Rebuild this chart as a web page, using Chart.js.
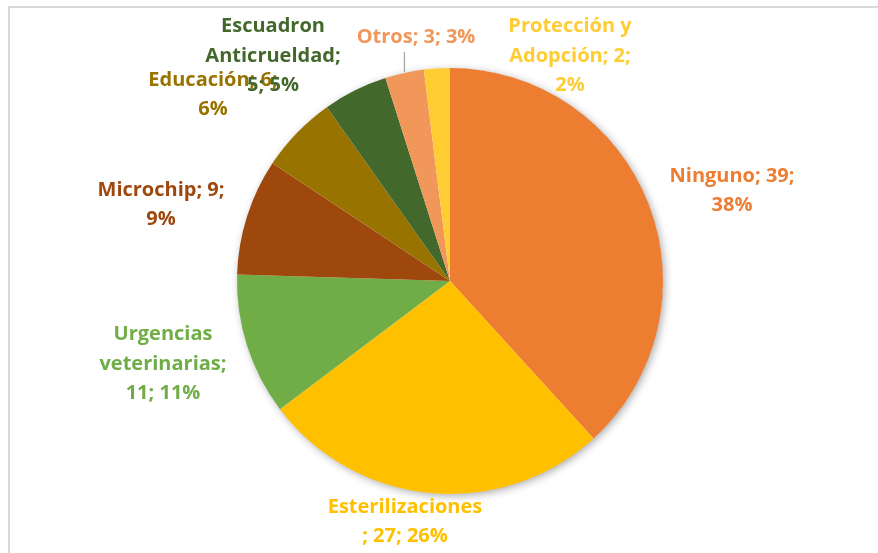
<!DOCTYPE html>
<html>
<head>
<meta charset="utf-8">
<script src="https://cdn.jsdelivr.net/npm/chart.js@4"></script>
<style>
  html, body { margin: 0; padding: 0; background: #fff; }
  #wrap { width: 878px; height: 553px; position: relative; }
</style>
</head>
<body>
<div id="wrap"><canvas id="pieChart"></canvas></div>
<script>
/* =========================
   DATA
========================= */
const categories = [
  "Ninguno",
  "Esterilizaciones",
  "Urgencias veterinarias",
  "Microchip",
  "Educación",
  "Escuadron Anticrueldad",
  "Otros",
  "Protección y Adopción"
];
const values = [39, 27, 11, 9, 6, 5, 3, 2];
const colors = ["#ED7D31", "#FFC000", "#70AD47", "#9E480E", "#997300", "#43682B", "#F1975A", "#FFCD33"];

// label placement, relative to pie center (px) + wrap width
const labelLayout = [
  { dx: 282,  dy: -90,  w: 150 },
  { dx: -45,  dy: 241,  w: 0 },   // 0 = break inside the long word
  { dx: -287, dy: 83,   w: 140 },
  { dx: -289, dy: -76,  w: 145 },
  { dx: -237, dy: -186, w: 145 },
  { dx: -177, dy: -225, w: 142 },
  { dx: -34,  dy: -244, w: 220, leader: true },
  { dx: 120,  dy: -225, w: 135 }
];

const FONT = "bold 20px 'Open Sans', Lato, sans-serif";
const LINE_H = 29.5;

/* =========================
   HELPERS
========================= */
function wrapText(ctx, text, maxW) {
  if (!maxW) {
    // width of the first word only -> trailing ';' goes to next line
    maxW = ctx.measureText(text.split(";")[0]).width + 1;
  }
  const words = text.split(" ");
  const lines = [];
  let cur = "";
  words.forEach(word => {
    const test = cur ? cur + " " + word : word;
    if (ctx.measureText(test).width <= maxW) { cur = test; return; }
    if (cur) lines.push(cur);
    // word too long on its own: break by characters
    if (ctx.measureText(word).width > maxW) {
      let piece = "";
      for (const ch of word) {
        if (ctx.measureText(piece + ch).width > maxW) { lines.push(piece); piece = ch; }
        else piece += ch;
      }
      cur = piece;
    } else {
      cur = word;
    }
  });
  if (cur) lines.push(cur);
  return lines;
}

/* =========================
   PLUGINS
========================= */
const frame = {
  id: "frame",
  beforeDraw(chart) {
    const ctx = chart.ctx;
    ctx.save();
    ctx.fillStyle = "#fff";
    ctx.fillRect(0, 0, chart.width, chart.height);
    ctx.strokeStyle = "#D9D9D9";
    ctx.lineWidth = 2;
    ctx.strokeRect(9, 7, chart.width + 20, chart.height + 20);
    ctx.restore();
  }
};

const pieShadow = {
  id: "pieShadow",
  beforeDatasetsDraw(chart) {
    const arc = chart.getDatasetMeta(0).data[0];
    if (!arc) return;
    const ctx = chart.ctx;
    ctx.save();
    ctx.shadowColor = "rgba(0,0,0,0.35)";
    ctx.shadowBlur = 9;
    ctx.shadowOffsetX = 2;
    ctx.shadowOffsetY = 2;
    ctx.fillStyle = "#fff";
    ctx.beginPath();
    ctx.arc(arc.x, arc.y, arc.outerRadius - 0.5, 0, Math.PI * 2);
    ctx.fill();
    ctx.restore();
  }
};

const pieLabels = {
  id: "pieLabels",
  afterDatasetsDraw(chart) {
    const ctx = chart.ctx;
    const meta = chart.getDatasetMeta(0);
    const total = values.reduce((a, b) => a + b, 0);
    ctx.save();
    ctx.font = FONT;
    ctx.textAlign = "center";
    ctx.textBaseline = "middle";
    meta.data.forEach((arc, i) => {
      const lay = labelLayout[i];
      const pct = Math.round(values[i] / total * 100);
      const text = `${categories[i]}; ${values[i]}; ${pct}%`;
      const lines = wrapText(ctx, text, lay.w);
      const cx = arc.x + lay.dx;
      const cy = arc.y + lay.dy;
      const top = cy - (lines.length - 1) * LINE_H / 2;

      if (lay.leader) {
        const mid = (arc.startAngle + arc.endAngle) / 2;
        const px = arc.x + Math.cos(mid) * arc.outerRadius;
        const py = arc.y + Math.sin(mid) * arc.outerRadius;
        ctx.strokeStyle = "#A6A6A6";
        ctx.lineWidth = 1.3;
        ctx.beginPath();
        ctx.moveTo(px, top + (lines.length - 1) * LINE_H + 15);
        ctx.lineTo(px, py - 1);
        ctx.stroke();
      }

      ctx.fillStyle = colors[i];
      lines.forEach((ln, k) => ctx.fillText(ln, cx, top + k * LINE_H));
    });
    ctx.restore();
  }
};

/* =========================
   CHART
========================= */
new Chart(document.getElementById("pieChart"), {
  type: "pie",
  data: {
    labels: categories,
    datasets: [{
      data: values,
      backgroundColor: colors,
      borderWidth: 0
    }]
  },
  options: {
    responsive: true,
    maintainAspectRatio: false,
    animation: false,
    events: [],
    layout: { padding: { left: 237, right: 215, top: 68, bottom: 59 } },
    plugins: {
      legend: { display: false },
      tooltip: { enabled: false }
    }
  },
  plugins: [frame, pieShadow, pieLabels]
});
</script>
</body>
</html>
